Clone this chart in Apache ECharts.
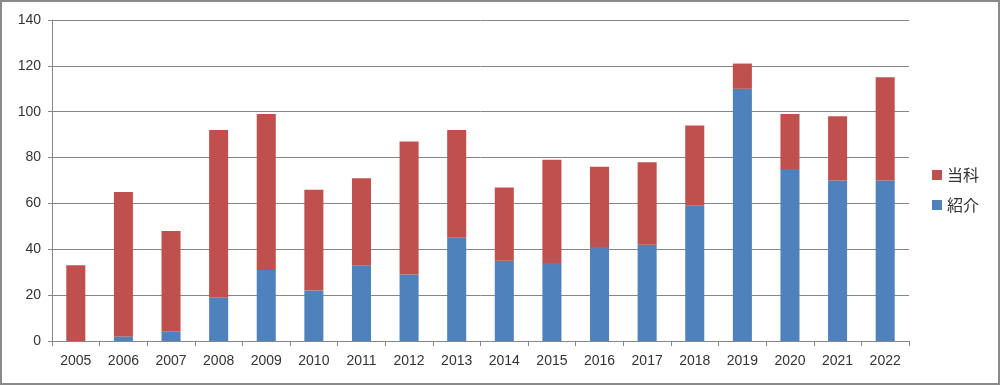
<!DOCTYPE html>
<html>
<head>
<meta charset="utf-8">
<script src="https://cdn.jsdelivr.net/npm/echarts@6/dist/echarts.min.js"></script>
<style>
html,body{margin:0;padding:0;background:#fff;}
#c{width:1000px;height:385px;box-sizing:border-box;border:2px solid #8a8a8a;}
</style>
</head>
<body>
<div id="c"></div>
<script>
const years = ['2005','2006','2007','2008','2009','2010','2011','2012','2013','2014','2015','2016','2017','2018','2019','2020','2021','2022'];
const shokai = [0, 2, 4, 19, 31, 22, 33, 29, 45, 35, 34, 41, 42, 59, 110, 75, 70, 70];
const touka = [33, 63, 44, 73, 68, 44, 38, 58, 47, 32, 45, 35, 36, 35, 11, 24, 28, 45];
const seriesNames = ['紹介', '当科'];

const chart = echarts.init(document.getElementById('c'), null, {renderer: 'canvas'});
const font = '"Liberation Sans", "Noto Sans CJK JP", sans-serif';
chart.setOption({
  animation: false,
  textStyle: {fontFamily: font},
  grid: {left: 50, right: 89, top: 18, bottom: 42, containLabel: false},
  legend: {
    orient: 'vertical',
    right: 14,
    top: 160,
    itemWidth: 10,
    itemHeight: 10,
    itemGap: 14,
    icon: 'rect',
    data: [seriesNames[1], seriesNames[0]],
    textStyle: {fontSize: 16, color: '#333', fontFamily: '"Noto Sans CJK JP", sans-serif'}
  },
  xAxis: {
    type: 'category',
    data: years,
    boundaryGap: true,
    axisLine: {lineStyle: {color: '#868686', width: 1}},
    axisTick: {show: true, alignWithLabel: false, length: 5, lineStyle: {color: '#868686'}},
    axisLabel: {fontSize: 14, color: '#333', margin: 13, fontFamily: font}
  },
  yAxis: {
    type: 'value',
    min: 0, max: 140, interval: 20,
    axisLine: {show: true, lineStyle: {color: '#868686', width: 1}},
    axisTick: {show: true, length: 4, lineStyle: {color: '#868686'}},
    splitLine: {lineStyle: {color: '#868686', width: 1}},
    axisLabel: {fontSize: 14, color: '#333', margin: 11, fontFamily: font}
  },
  series: [
    {name: seriesNames[0], type: 'bar', stack: 'a', data: shokai, barWidth: '40%',
     itemStyle: {color: '#4F81BD'}},
    {name: seriesNames[1], type: 'bar', stack: 'a', data: touka, barWidth: '40%',
     itemStyle: {color: '#C0504D'}}
  ]
});
</script>
</body>
</html>
